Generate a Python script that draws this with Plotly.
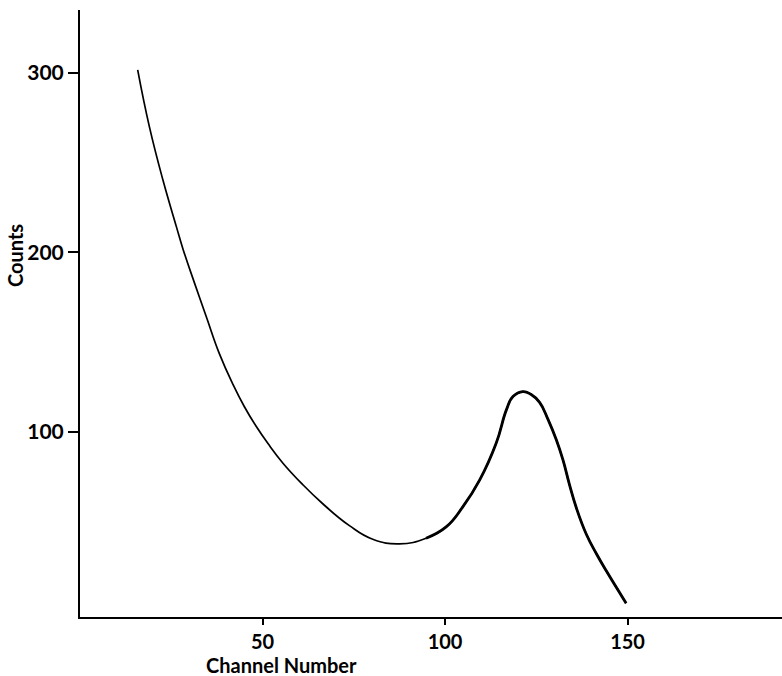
import plotly.graph_objects as go

channel = [15.8, 19.0, 22.7, 26.4, 28.2, 31.4, 34.6, 38.2, 41.9, 45.0, 48.3, 51.5,
           55.6, 61.0, 66.5, 73.8, 80.2, 87.5, 94.8, 100.3, 104.9, 109.5,
           114.0, 116.8, 118.6, 121.3, 123.5, 125.9, 128.2, 130.5, 132.3, 134.1,
           136.0, 138.7, 141.5, 144.2, 149.6]
counts = [301.7, 270.1, 240.5, 214.4, 202.0, 182.8, 164.2, 143.5, 126.5, 114.2, 103.0, 93.5,
          82.6, 70.7, 60.0, 47.8, 40.2, 37.6, 40.8, 47.1, 58.4, 73.3,
          93.7, 112.3, 119.7, 122.5, 121.0, 116.5, 107.0, 95.5, 84.4, 70.5,
          57.5, 43.0, 32.0, 22.5, 4.6]

x_ticks = [50, 100, 150]
y_ticks = [100, 200, 300]
x_title = "Channel Number"
y_title = "Counts"

FONT = "Lato"
heavy_from = 18  # index from which the line is drawn heavier

fig = go.Figure()
fig.add_trace(go.Scatter(
    x=channel, y=counts, mode="lines",
    line=dict(color="black", width=1.7, shape="spline", smoothing=1.3),
    hoverinfo="skip", showlegend=False))
fig.add_trace(go.Scatter(
    x=channel[heavy_from:], y=counts[heavy_from:], mode="lines",
    line=dict(color="black", width=2.8, shape="spline", smoothing=1.3),
    hoverinfo="skip", showlegend=False))

fig.update_layout(
    width=782, height=676,
    margin=dict(l=80, r=0, t=10, b=59),
    paper_bgcolor="white", plot_bgcolor="white",
    font=dict(family=FONT, color="black", size=20),
    xaxis=dict(range=[0, 192.3], tickvals=x_ticks, ticks="outside", ticklen=6,
               tickwidth=2, tickcolor="black", showline=True, linecolor="black",
               linewidth=2, showgrid=False, zeroline=False,
               tickfont=dict(family=FONT, size=20, weight=700)),
    yaxis=dict(range=[-3.1, 335.1], tickvals=y_ticks, ticks="outside", ticklen=10,
               tickwidth=2, tickcolor="black", showline=True, linecolor="black",
               linewidth=2, showgrid=False, zeroline=False,
               tickfont=dict(family=FONT, size=21, weight=700)),
    annotations=[
        dict(text=x_title, xref="x", yref="paper", x=55.2, y=-0.0783,
             xanchor="center", yanchor="middle", showarrow=False,
             font=dict(family=FONT, size=20, weight=700)),
        dict(text=y_title, xref="paper", yref="y", x=-0.0933, y=198.3,
             xanchor="center", yanchor="middle", textangle=-90, showarrow=False,
             font=dict(family=FONT, size=20, weight=700)),
    ],
)

fig.write_html("out.html", config={"displayModeBar": False},
               post_script="document.body.style.margin='0';")
